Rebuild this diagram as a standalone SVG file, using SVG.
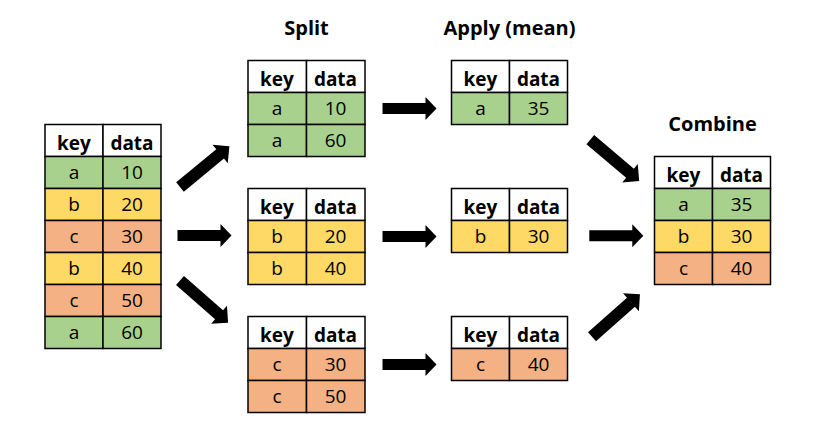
<svg xmlns="http://www.w3.org/2000/svg" width="814" height="443" viewBox="0 0 814 443">
<defs>
<style>
.cell{stroke:#000;stroke-width:1.5}
.g{fill:#A9D18E}.y{fill:#FFD966}.o{fill:#F4B183}.w{fill:#fff}
.h{font-family:"Open Sans","Noto Sans","DejaVu Sans",sans-serif;font-weight:bold;font-size:19px;text-anchor:middle;fill:#000}
.d{font-family:"Open Sans","Noto Sans","DejaVu Sans",sans-serif;font-size:19px;text-anchor:middle;fill:#000}
.t{font-family:"Open Sans","Noto Sans","DejaVu Sans",sans-serif;font-weight:bold;font-size:20px;text-anchor:middle;fill:#000}
.arr{fill:#000}
</style>
<path id="ah" d="M0,-5.5 H43 V-11.5 L54,0 L43,11.5 V5.5 H0 Z"/>
<path id="ad" d="M0,-6 H52 V-12 L64,0 L52,12 V6 H0 Z"/>
</defs>
<rect width="814" height="443" fill="#fff"/>

<g id="titles">
<text class="t" x="306.5" y="34.5">Split</text>
<text class="t" x="509.5" y="35">Apply (mean)</text>
<text class="t" x="712.5" y="131">Combine</text>
</g>

<g id="input">
<rect class="cell w" x="45" y="124.5" width="58" height="32"/><rect class="cell w" x="103" y="124.5" width="58" height="32"/>
<text class="h" x="74" y="150">key</text><text class="h" x="132" y="150">data</text>
<rect class="cell g" x="45" y="156.5" width="58" height="32"/><rect class="cell g" x="103" y="156.5" width="58" height="32"/>
<text class="d" x="74" y="179">a</text><text class="d" x="132" y="179">10</text>
<rect class="cell y" x="45" y="188.5" width="58" height="32"/><rect class="cell y" x="103" y="188.5" width="58" height="32"/>
<text class="d" x="74" y="211">b</text><text class="d" x="132" y="211">20</text>
<rect class="cell o" x="45" y="220.5" width="58" height="32"/><rect class="cell o" x="103" y="220.5" width="58" height="32"/>
<text class="d" x="74" y="243">c</text><text class="d" x="132" y="243">30</text>
<rect class="cell y" x="45" y="252.5" width="58" height="32"/><rect class="cell y" x="103" y="252.5" width="58" height="32"/>
<text class="d" x="74" y="275">b</text><text class="d" x="132" y="275">40</text>
<rect class="cell o" x="45" y="284.5" width="58" height="32"/><rect class="cell o" x="103" y="284.5" width="58" height="32"/>
<text class="d" x="74" y="307">c</text><text class="d" x="132" y="307">50</text>
<rect class="cell g" x="45" y="316.5" width="58" height="32"/><rect class="cell g" x="103" y="316.5" width="58" height="32"/>
<text class="d" x="74" y="339">a</text><text class="d" x="132" y="339">60</text>
</g>

<g id="split-a">
<rect class="cell w" x="248" y="60.5" width="58.5" height="32"/><rect class="cell w" x="306.5" y="60.5" width="58.5" height="32"/>
<text class="h" x="277" y="86">key</text><text class="h" x="335.5" y="86">data</text>
<rect class="cell g" x="248" y="92.5" width="58.5" height="32"/><rect class="cell g" x="306.5" y="92.5" width="58.5" height="32"/>
<text class="d" x="277" y="115">a</text><text class="d" x="335.5" y="115">10</text>
<rect class="cell g" x="248" y="124.5" width="58.5" height="32"/><rect class="cell g" x="306.5" y="124.5" width="58.5" height="32"/>
<text class="d" x="277" y="147">a</text><text class="d" x="335.5" y="147">60</text>
</g>

<g id="split-b">
<rect class="cell w" x="248" y="188.5" width="58.5" height="32"/><rect class="cell w" x="306.5" y="188.5" width="58.5" height="32"/>
<text class="h" x="277" y="214">key</text><text class="h" x="335.5" y="214">data</text>
<rect class="cell y" x="248" y="220.5" width="58.5" height="32"/><rect class="cell y" x="306.5" y="220.5" width="58.5" height="32"/>
<text class="d" x="277" y="243">b</text><text class="d" x="335.5" y="243">20</text>
<rect class="cell y" x="248" y="252.5" width="58.5" height="32"/><rect class="cell y" x="306.5" y="252.5" width="58.5" height="32"/>
<text class="d" x="277" y="275">b</text><text class="d" x="335.5" y="275">40</text>
</g>

<g id="split-c">
<rect class="cell w" x="248" y="316.5" width="58.5" height="32"/><rect class="cell w" x="306.5" y="316.5" width="58.5" height="32"/>
<text class="h" x="277" y="342">key</text><text class="h" x="335.5" y="342">data</text>
<rect class="cell o" x="248" y="348.5" width="58.5" height="32"/><rect class="cell o" x="306.5" y="348.5" width="58.5" height="32"/>
<text class="d" x="277" y="371">c</text><text class="d" x="335.5" y="371">30</text>
<rect class="cell o" x="248" y="380.5" width="58.5" height="32"/><rect class="cell o" x="306.5" y="380.5" width="58.5" height="32"/>
<text class="d" x="277" y="403">c</text><text class="d" x="335.5" y="403">50</text>
</g>

<g id="apply-a">
<rect class="cell w" x="451.5" y="60.5" width="58" height="32"/><rect class="cell w" x="509.5" y="60.5" width="58" height="32"/>
<text class="h" x="480.5" y="86">key</text><text class="h" x="538.5" y="86">data</text>
<rect class="cell g" x="451.5" y="92.5" width="58" height="32"/><rect class="cell g" x="509.5" y="92.5" width="58" height="32"/>
<text class="d" x="480.5" y="115">a</text><text class="d" x="538.5" y="115">35</text>
</g>

<g id="apply-b">
<rect class="cell w" x="451.5" y="188.5" width="58" height="32"/><rect class="cell w" x="509.5" y="188.5" width="58" height="32"/>
<text class="h" x="480.5" y="214">key</text><text class="h" x="538.5" y="214">data</text>
<rect class="cell y" x="451.5" y="220.5" width="58" height="32"/><rect class="cell y" x="509.5" y="220.5" width="58" height="32"/>
<text class="d" x="480.5" y="243">b</text><text class="d" x="538.5" y="243">30</text>
</g>

<g id="apply-c">
<rect class="cell w" x="451.5" y="316.5" width="58" height="32"/><rect class="cell w" x="509.5" y="316.5" width="58" height="32"/>
<text class="h" x="480.5" y="342">key</text><text class="h" x="538.5" y="342">data</text>
<rect class="cell o" x="451.5" y="348.5" width="58" height="32"/><rect class="cell o" x="509.5" y="348.5" width="58" height="32"/>
<text class="d" x="480.5" y="371">c</text><text class="d" x="538.5" y="371">40</text>
</g>

<g id="combine">
<rect class="cell w" x="654.5" y="156.5" width="58" height="32"/><rect class="cell w" x="712.5" y="156.5" width="58" height="32"/>
<text class="h" x="683.5" y="182">key</text><text class="h" x="741.5" y="182">data</text>
<rect class="cell g" x="654.5" y="188.5" width="58" height="32"/><rect class="cell g" x="712.5" y="188.5" width="58" height="32"/>
<text class="d" x="683.5" y="211">a</text><text class="d" x="741.5" y="211">35</text>
<rect class="cell y" x="654.5" y="220.5" width="58" height="32"/><rect class="cell y" x="712.5" y="220.5" width="58" height="32"/>
<text class="d" x="683.5" y="243">b</text><text class="d" x="741.5" y="243">30</text>
<rect class="cell o" x="654.5" y="252.5" width="58" height="32"/><rect class="cell o" x="712.5" y="252.5" width="58" height="32"/>
<text class="d" x="683.5" y="275">c</text><text class="d" x="741.5" y="275">40</text>
</g>

<g id="connectors" class="arr">
<use href="#ad" transform="translate(180,187) rotate(-39.5)"/>
<use href="#ah" transform="translate(177.5,235.5)"/>
<use href="#ad" transform="translate(180,280.5) rotate(41.3)"/>
<use href="#ah" transform="translate(382.5,108.5)"/>
<use href="#ah" transform="translate(382.5,236.5)"/>
<use href="#ah" transform="translate(382.5,364.5)"/>
<use href="#ad" transform="translate(590.3,139.7) rotate(40.2)"/>
<use href="#ah" transform="translate(589.3,235.7)"/>
<use href="#ad" transform="translate(592,336.7) rotate(-41.5)"/>
</g>
</svg>
